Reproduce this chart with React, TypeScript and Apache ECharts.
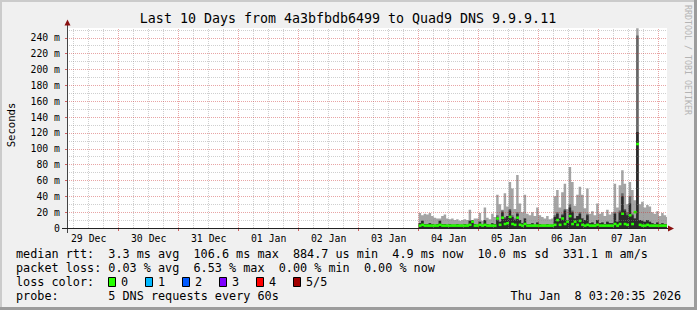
import React, { useEffect, useRef } from "react";
import * as echarts from "echarts";

// ---------------- data ----------------
const END_TIME = Date.UTC(2026, 0, 8, 3, 20, 35);
const START_TIME = END_TIME - 10 * 86400000;
const FIRST_SAMPLE = Date.UTC(2026, 0, 4, 0, 0, 0);
const SAMPLE_STEP = 3600000;
const FIRST_LABEL_NOON = Date.UTC(2025, 11, 29, 12, 0, 0);

const dayLabels = ["29 Dec", "30 Dec", "31 Dec", "01 Jan", "02 Jan", "03 Jan", "04 Jan", "05 Jan", "06 Jan", "07 Jan"];
const yTickValues = [0, 20, 40, 60, 80, 100, 120, 140, 160, 180, 200, 220, 240];
const Y_MAX = 252.4;

// hourly smoke (ms): top of outer (light) band
const smokeMax = [
  19, 16, 18, 17, 19, 15, 13, 12, 12, 15,
  17, 12, 11, 12, 10, 11, 9, 10, 11, 10,
  23, 10, 12, 12, 19, 9, 26, 13, 11, 18,
  14, 42, 30, 23, 44, 27, 58, 50, 24, 67,
  31, 20, 42, 18, 16, 20, 15, 26, 16, 14,
  12, 15, 11, 12, 40, 48, 26, 45, 56, 24,
  77, 58, 28, 42, 52, 42, 25, 50, 18, 21,
  16, 31, 18, 20, 15, 23, 17, 20, 56, 26,
  54, 73, 56, 30, 58, 48, 35, 252, 30, 33,
  26, 29, 27, 20, 18, 21, 15, 19, 16, 14,
];
// top of middle grey band
const smokeMid = [
  6, 9, 5, 5, 6, 5, 4, 5, 9, 5,
  5, 4, 5, 4, 4, 5, 4, 4, 5, 4,
  9, 10, 5, 4, 8, 4, 10, 5, 4, 6,
  5, 16, 8, 22, 14, 15, 24, 16, 12, 20,
  10, 6, 12, 5, 5, 6, 4, 7, 5, 4,
  4, 5, 4, 4, 16, 20, 12, 18, 24, 10,
  30, 22, 12, 15, 20, 12, 10, 18, 6, 7,
  5, 10, 6, 7, 5, 8, 6, 6, 20, 8,
  22, 44, 24, 20, 40, 18, 12, 243, 10, 9,
  8, 10, 8, 6, 5, 7, 5, 6, 5, 5,
];
// top of inner (dark) band
const smokeInner = [
  6, 9, 5, 5, 6, 5, 4, 5, 9, 5,
  5, 4, 5, 4, 4, 5, 4, 4, 5, 4,
  9, 10, 5, 4, 8, 4, 10, 5, 4, 6,
  5, 14, 8, 20, 12, 15, 22, 14, 10, 18,
  10, 6, 12, 5, 5, 6, 4, 7, 5, 4,
  4, 5, 4, 4, 14, 18, 12, 16, 22, 10,
  26, 20, 12, 15, 18, 12, 10, 16, 6, 7,
  5, 10, 6, 7, 5, 8, 6, 6, 18, 8,
  20, 40, 22, 16, 31, 16, 12, 121, 10, 9,
  8, 10, 8, 6, 5, 7, 5, 6, 5, 5,
];
// median rtt (ms)
const medianRtt = [
  3, 4, 3, 3, 3, 3, 3, 3, 4, 3,
  3, 3, 3, 3, 3, 3, 3, 3, 3, 3,
  4, 8, 3, 3, 4, 3, 4, 3, 3, 3,
  3, 12, 4, 13, 5, 6, 14, 5, 4, 13,
  4, 3, 5, 3, 3, 3, 3, 3, 3, 3,
  3, 3, 3, 3, 4, 10, 4, 12, 5, 8,
  15, 5, 8, 4, 9, 4, 3, 4, 3, 3,
  3, 4, 3, 3, 3, 3, 3, 3, 5, 3,
  5, 18, 5, 4, 16, 5, 20, 106, 4, 3,
  3, 4, 3, 3, 3, 3, 3, 3, 3, 3,
];

const titleText = "Last 10 Days from 4a3bfbdb6499 to Quad9 DNS 9.9.9.11";
const yAxisName = "Seconds";
const sideText = "RRDTOOL / TOBI OETIKER";
const rttLabel = "median rtt:";
const rttStats = ["3.3 ms avg", "106.6 ms max", "884.7 us min", "4.9 ms now", "10.0 ms sd", "331.1 m am/s"];
const lossLabel = "packet loss:";
const lossStats = ["0.03 % avg", "6.53 % max", "0.00 % min", "0.00 % now"];
const lossColorLabel = "loss color:";
const lossLevels = ["0", "1", "2", "3", "4", "5/5"];
const lossColors = ["#26ff00", "#00b8ff", "#0059ff", "#7e00ff", "#ff0000", "#a10000"];
const probeLabel = "probe:";
const probeText = "5 DNS requests every 60s";
const dateText = "Thu Jan  8 03:20:35 2026";

// ---------------- layout ----------------
const W = 697;
const H = 310;
const MONO = '"DejaVu Sans Mono"';
const CHAR_W = 7.1;
const LEG_X = 16;
const rttCols = [13, 25, 39, 53, 65, 77];
const lossCols = [13, 25, 37, 49];
const swatchX = [108.5, 145.5, 182.5, 219.5, 256.5, 293.5];
const swatchLabelX = [121, 158, 195, 232, 269, 306];
const rowY = [253.5, 267.5, 281.5, 295.5];
const GRID = { left: 67, top: 28, width: 600, height: 200 };
const MINOR = "rgba(140,140,140,0.42)";
const MAJOR = "rgba(200,40,40,0.42)";
const MEDIAN_HALF = 1.6;

function sampleStart(i: number) {
  return FIRST_SAMPLE + i * SAMPLE_STEP;
}
function sampleEnd(i: number) {
  return Math.min(FIRST_SAMPLE + (i + 1) * SAMPLE_STEP, END_TIME);
}

function stepData(values: number[]) {
  const pts: [number, number][] = values.map((v, i) => [sampleStart(i), v]);
  pts.push([END_TIME, values[values.length - 1]]);
  return pts;
}

function areaSeries(name: string, values: number[], color: string, z: number) {
  return {
    name,
    type: "line",
    step: "end",
    symbol: "none",
    silent: true,
    lineStyle: { width: 0, opacity: 0 },
    areaStyle: { color, opacity: 1 },
    data: stepData(values),
    z,
  };
}

export default function App() {
  const ref = useRef<HTMLDivElement>(null);
  useEffect(() => {
    if (!ref.current) return;
    const chart = echarts.init(ref.current, null, { renderer: "svg", width: W, height: H });

    const noonTimes = dayLabels.map((_, k) => FIRST_LABEL_NOON + k * 86400000);
    const labelMap = new Map<number, string>();
    noonTimes.forEach((t, k) => labelMap.set(t, dayLabels[k]));

    const vLines: any[] = [];
    const midnights: number[] = [];
    for (let t = Math.ceil(START_TIME / 21600000) * 21600000; t < END_TIME; t += 21600000) {
      const major = t % 86400000 === 0;
      if (major) midnights.push(t);
      vLines.push({ xAxis: t, lineStyle: { color: major ? MAJOR : MINOR } });
    }
    const hLines: any[] = [];
    for (let v = 10; v <= 250; v += 10) {
      hLines.push({ yAxis: v, lineStyle: { color: v % 20 === 0 ? MAJOR : MINOR } });
    }

    const textEl = (text: string, x: number, y: number, size: number, extra: any = {}) => ({
      type: "text",
      x,
      y,
      silent: true,
      style: {
        text,
        fontFamily: MONO,
        fontSize: size,
        fill: "#000",
        align: "left",
        verticalAlign: "middle",
        ...(extra.style || {}),
      },
      ...(extra.el || {}),
    });

    const graphics: any[] = [
      { type: "rect", shape: { x: 0, y: 0, width: W, height: 2 }, style: { fill: "#cbcbcb" }, silent: true },
      { type: "rect", shape: { x: 0, y: 0, width: 2, height: H }, style: { fill: "#cbcbcb" }, silent: true },
      { type: "rect", shape: { x: 0, y: H - 3, width: W, height: 3 }, style: { fill: "#9c9c9c" }, silent: true },
      { type: "rect", shape: { x: W - 3, y: 0, width: 3, height: H }, style: { fill: "#9c9c9c" }, silent: true },
      { type: "line", shape: { x1: 67.5, y1: 24, x2: 67.5, y2: 233 }, style: { stroke: "#444", lineWidth: 1 }, silent: true, z: 50 },
      { type: "line", shape: { x1: 62, y1: 228.5, x2: 669, y2: 228.5 }, style: { stroke: "#222", lineWidth: 1 }, silent: true, z: 50 },
      { type: "polygon", shape: { points: [[67.5, 19.5], [64.5, 25.5], [70.5, 25.5]] }, style: { fill: "#8a1010" }, silent: true, z: 51 },
      { type: "polygon", shape: { points: [[674, 228.5], [668, 225.5], [668, 231.5]] }, style: { fill: "#8a1010" }, silent: true, z: 51 },
      textEl(titleText, 348, 18, 13.3, { style: { align: "center" } }),
      textEl(yAxisName, 10.5, 125, 10.6, { style: { align: "center" }, el: { rotation: Math.PI / 2 } }),
      textEl(sideText, 688, 5, 8.3, { style: { fill: "#b4b4b4", align: "left" }, el: { rotation: -Math.PI / 2 } }),
      textEl(rttLabel, LEG_X, rowY[0], 11.8),
      ...rttStats.map((s, k) => textEl(s, LEG_X + rttCols[k] * CHAR_W, rowY[0], 11.8)),
      textEl(lossLabel, LEG_X, rowY[1], 11.8),
      ...lossStats.map((s, k) => textEl(s, LEG_X + lossCols[k] * CHAR_W, rowY[1], 11.8)),
      textEl(lossColorLabel, LEG_X, rowY[2], 11.8),
      ...lossLevels.map((s, k) => textEl(s, swatchLabelX[k], rowY[2], 11.8)),
      ...lossColors.map((c, k) => ({
        type: "rect",
        silent: true,
        shape: { x: swatchX[k], y: 277.5, width: 7, height: 9 },
        style: { fill: c, stroke: "#000", lineWidth: 1 },
      })),
      textEl(probeLabel, LEG_X, rowY[3], 11.8),
      textEl(probeText, LEG_X + 13 * CHAR_W, rowY[3], 11.8),
      textEl(dateText, 681, rowY[3], 11.8, { style: { align: "right" } }),
    ];

    const medianData = medianRtt.map((v, i) => [sampleStart(i), sampleEnd(i), v]);

    chart.setOption({
      animation: false,
      backgroundColor: "#f0f0f0",
      textStyle: { fontFamily: MONO },
      grid: { ...GRID, show: true, backgroundColor: "#ffffff", borderWidth: 0 },
      xAxis: {
        type: "value",
        min: START_TIME,
        max: END_TIME,
        axisLine: { show: false },
        splitLine: { show: false },
        axisTick: { show: true, customValues: midnights, length: 3, lineStyle: { color: "#d06060" } },
        axisLabel: {
          customValues: noonTimes,
          formatter: (v: number) => labelMap.get(v) || "",
          fontFamily: MONO,
          fontSize: 9.8,
          color: "#000",
          margin: 5,
        },
      },
      yAxis: {
        type: "value",
        min: 0,
        max: Y_MAX,
        interval: 20,
        axisLine: { show: false },
        splitLine: { show: false },
        axisTick: { show: true, customValues: yTickValues, length: 2, lineStyle: { color: "#d06060" } },
        axisLabel: {
          formatter: (v: number) => (v === 0 ? "0" : `${v} m`),
          showMaxLabel: false,
          fontFamily: MONO,
          fontSize: 9.8,
          color: "#000",
          margin: 7,
        },
      },
      series: [
        areaSeries("outer", smokeMax, "#a4a4a4", 2),
        areaSeries("mid", smokeMid, "#666666", 2),
        areaSeries("inner", smokeInner, "#2a2a2a", 2),
        {
          name: "grid",
          type: "line",
          data: [],
          silent: true,
          z: 3,
          markLine: {
            silent: true,
            symbol: ["none", "none"],
            label: { show: false },
            emphasis: { disabled: true },
            lineStyle: { type: [1, 1], width: 1 },
            data: [...vLines, ...hLines],
          },
        },
        {
          name: "median",
          type: "custom",
          silent: true,
          z: 4,
          clip: true,
          encode: { x: [0, 1], y: 2 },
          data: medianData,
          renderItem: (params: any, api: any) => {
            const t0 = api.value(0);
            const t1 = api.value(1);
            const m = api.value(2);
            const a = api.coord([t0, m + MEDIAN_HALF]);
            const b = api.coord([t1, m - MEDIAN_HALF]);
            return {
              type: "rect",
              shape: { x: a[0], y: a[1], width: b[0] - a[0] + 0.4, height: b[1] - a[1] },
              style: { fill: "#26ff00" },
            };
          },
        },
      ],
      graphic: graphics,
    });
    return () => chart.dispose();
  }, []);

  return (
    <div style={{ position: "fixed", left: 0, top: 0, width: W, height: H }}>
      <div ref={ref} style={{ width: W, height: H }} />
    </div>
  );
}
